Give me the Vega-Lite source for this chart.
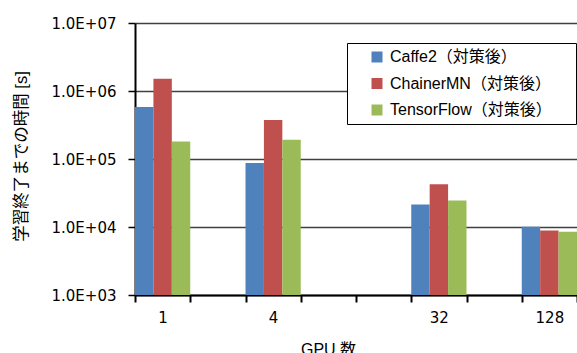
{
  "$schema": "https://vega.github.io/schema/vega-lite/v6.json",
  "width": 442,
  "height": 272,
  "autosize": {"type": "none"},
  "padding": {"left": 135, "top": 23, "right": 0, "bottom": 58},
  "background": "white",
  "config": {"view": {"stroke": null}, "font": "Liberation Sans, Noto Sans CJK JP"},
  "data": {
    "values": [
      {"gpu": "1", "framework": "Caffe2（対策後）", "time": 580000},
      {"gpu": "1", "framework": "ChainerMN（対策後）", "time": 1520000},
      {"gpu": "1", "framework": "TensorFlow（対策後）", "time": 181000},
      {"gpu": "4", "framework": "Caffe2（対策後）", "time": 87000},
      {"gpu": "4", "framework": "ChainerMN（対策後）", "time": 373000},
      {"gpu": "4", "framework": "TensorFlow（対策後）", "time": 192000},
      {"gpu": "32", "framework": "Caffe2（対策後）", "time": 21400},
      {"gpu": "32", "framework": "ChainerMN（対策後）", "time": 42700},
      {"gpu": "32", "framework": "TensorFlow（対策後）", "time": 24500},
      {"gpu": "128", "framework": "Caffe2（対策後）", "time": 10100},
      {"gpu": "128", "framework": "ChainerMN（対策後）", "time": 8900},
      {"gpu": "128", "framework": "TensorFlow（対策後）", "time": 8500}
    ]
  },
  "mark": {"type": "bar"},
  "encoding": {
    "x": {
      "field": "gpu",
      "type": "nominal",
      "scale": {"domain": ["1", "2", "4", "8", "16", "32", "64", "128"], "paddingInner": 0, "paddingOuter": 0},
      "axis": {
        "title": "GPU 数",
        "labelAngle": 0,
        "tickBand": "extent",
        "labelExpr": "indexof(['1','4','32','128'], datum.value) >= 0 ? datum.label : ''",
        "domainColor": "black",
        "domainWidth": 2,
        "tickColor": "black",
        "tickWidth": 2,
        "tickSize": 7,
        "labelFont": "DejaVu Sans",
        "labelFontSize": 15,
        "labelColor": "black",
        "labelPadding": 8,
        "titleFontSize": 16,
        "titleFontWeight": "normal",
        "titleColor": "black",
        "titleX": 193,
        "titleY": 46,
        "titleBaseline": "top",
        "grid": false
      }
    },
    "xOffset": {
      "field": "framework",
      "type": "nominal",
      "sort": ["Caffe2（対策後）", "ChainerMN（対策後）", "TensorFlow（対策後）"],
      "scale": {"paddingInner": 0, "paddingOuter": 0}
    },
    "y": {
      "field": "time",
      "type": "quantitative",
      "stack": null,
      "scale": {"type": "log", "domain": [1000, 10000000]},
      "axis": {
        "title": "学習終了までの時間 [s]",
        "values": [1000, 10000, 100000, 1000000, 10000000],
        "labelExpr": "'1.0E+0' + round(log(datum.value) / LN10)",
        "grid": true,
        "gridColor": "#404040",
        "gridWidth": 1.3,
        "domainColor": "black",
        "domainWidth": 2,
        "tickColor": "black",
        "tickSize": 7,
        "tickWidth": 1.5,
        "labelFont": "DejaVu Sans",
        "labelFontSize": 15,
        "labelColor": "black",
        "labelPadding": 12,
        "titleFontSize": 16.5,
        "titleFontWeight": "normal",
        "titleColor": "black",
        "titleX": -114,
        "titleY": 133,
        "titleAlign": "center",
        "titleBaseline": "middle"
      }
    },
    "color": {
      "field": "framework",
      "type": "nominal",
      "scale": {
        "domain": ["Caffe2（対策後）", "ChainerMN（対策後）", "TensorFlow（対策後）"],
        "range": ["#4F81BD", "#C0504D", "#9BBB59"]
      },
      "legend": {
        "title": null,
        "orient": "none",
        "legendX": 212,
        "legendY": 20,
        "fillColor": "white",
        "strokeColor": "black",
        "padding": 6,
        "symbolType": "square",
        "symbolSize": 121,
        "symbolStrokeWidth": 0,
        "symbolOffset": 16,
        "labelOffset": 5,
        "labelFontSize": 16,
        "labelLimit": 400,
        "labelColor": "black",
        "rowPadding": 10.5,
        "labelExpr": "datum.label + '\u00a0\u00a0\u00a0\u00a0\u200b'"
      }
    }
  }
}
